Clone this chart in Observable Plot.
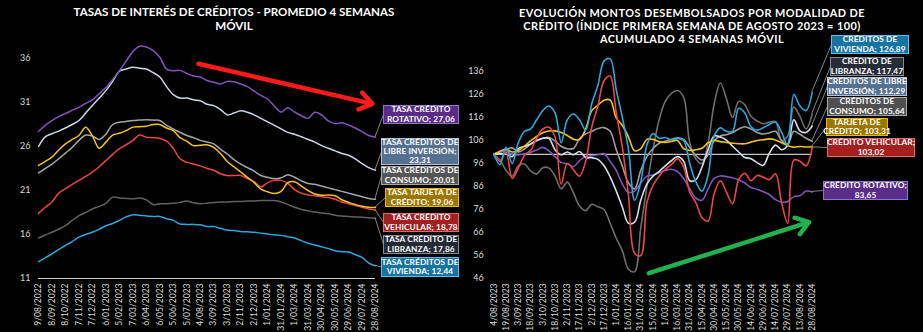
<!DOCTYPE html>
<html><head><meta charset="utf-8">
<script src="https://cdn.jsdelivr.net/npm/d3@7"></script>
<script src="https://cdn.jsdelivr.net/npm/@observablehq/plot@0.6"></script>
<style>
html,body{margin:0;padding:0;background:#000;}
#root{position:relative;width:923px;height:332px;background:#000;overflow:hidden;font-family:Lato,"Open Sans",sans-serif;}
.title{position:absolute;color:#fff;font-weight:700;text-align:center;white-space:nowrap;}
.chart{position:absolute;top:0;}
.lb{position:absolute;box-sizing:border-box;display:flex;align-items:center;justify-content:center;text-align:center;color:#fff;font-weight:700;font-size:8.3px;line-height:9.2px;border:1px solid;white-space:nowrap;z-index:2;letter-spacing:0.1px;}
</style></head><body>
<div id="root">
 <div class="title" style="left:34px;width:400px;top:5px;font-size:11.6px;line-height:14.2px">TASAS DE INTERÉS DE CRÉDITOS - PROMEDIO 4 SEMANAS<br>MÓVIL</div>
 <div class="title" style="left:482px;width:420px;top:5.5px;font-size:10.9px;line-height:13.2px;letter-spacing:0.45px">EVOLUCIÓN MONTOS DESEMBOLSADOS POR MODALIDAD DE<br>CRÉDITO (ÍNDICE PRIMERA SEMANA DE AGOSTO 2023 = 100)<br>ACUMULADO 4 SEMANAS MÓVIL</div>
 <div id="left" class="chart" style="left:0;width:460px;height:332px"></div>
 <div id="right" class="chart" style="left:460px;width:463px;height:332px"></div>
</div>
<script>
// ---------- LEFT PANEL DATA (every 15 days from 9/08/2022) ----------
const leftStart = "2022-08-09";
const leftStepDays = 15;
const leftTickLabels = ["9/08/2022","8/09/2022","8/10/2022","7/11/2022","7/12/2022","6/01/2023","5/02/2023","7/03/2023","6/04/2023","6/05/2023","5/06/2023","5/07/2023","4/08/2023","3/09/2023","3/10/2023","2/11/2023","2/12/2023","1/01/2024","31/01/2024","1/03/2024","31/03/2024","30/04/2024","30/05/2024","29/06/2024","29/07/2024","28/08/2024"];
const leftYTicks = [11,16,21,26,31,36];

const rotativoL = [27.7,28.4,28.95,29.4,29.75,30.1,30.45,30.9,31.3,32.0,32.7,33.6,34.6,35.7,36.8,37.4,37.3,36.9,36.15,34.8,34.6,34.65,34.3,34.0,33.9,33.5,33.3,33.1,33.4,33.35,33.1,32.8,32.3,31.8,31.4,30.6,29.9,30.4,29.9,29.5,29.2,29.9,29.6,28.9,28.6,28.7,28.45,28.1,27.7,27.25,27.06];
const libreL = [26.0,27.1,27.45,27.75,28.1,28.5,28.95,29.8,30.65,31.5,32.35,33.4,34.55,34.8,35.0,34.9,34.8,34.4,33.9,32.8,31.9,31.5,31.5,31.3,31.2,30.8,30.65,30.2,29.6,29.8,30.05,29.9,29.6,29.2,28.8,28.4,28.0,27.6,27.4,27.1,26.8,26.5,26.1,25.8,25.5,25.2,25.0,24.6,24.05,23.6,23.31];
const consumoL = [23.0,23.5,24.0,24.6,25.25,25.9,26.7,27.3,27.2,26.8,27.4,28.5,28.75,28.85,28.95,29.0,29.05,29.0,28.95,28.4,28.0,27.6,27.25,27.0,26.7,26.5,26.3,25.7,25.15,24.5,24.0,23.6,23.2,22.7,22.5,22.35,22.45,22.8,22.5,22.1,21.8,21.7,21.5,21.3,21.1,20.9,20.7,20.5,20.3,20.1,20.01];
const tarjetaL = [23.85,24.3,24.8,25.6,26.3,26.8,27.25,28.2,27.2,25.8,26.5,27.3,27.5,27.8,28.2,28.25,28.3,28.5,28.5,28.1,27.8,27.0,26.6,26.1,26.15,26.2,25.9,25.2,24.3,23.7,23.1,22.5,21.9,21.15,20.85,20.65,20.9,21.9,22.0,21.5,21.0,20.6,20.45,20.5,20.4,19.95,19.65,19.4,19.2,19.1,19.06];
const vehicularL = [18.4,19.1,19.7,20.7,21.2,21.7,22.15,22.6,23.1,23.7,24.4,25.1,25.75,26.2,26.7,27.3,27.05,27.0,26.9,26.6,25.8,24.6,24.2,24.0,23.8,23.5,23.3,22.9,22.7,22.7,22.7,22.35,22.0,21.4,21.9,22.15,22.15,21.8,21.1,20.7,20.5,20.4,20.3,20.2,20.0,19.7,19.5,19.3,19.1,18.9,18.78];
const libranzaL = [15.6,15.95,16.25,16.6,17.0,17.6,18.15,18.5,18.9,19.2,19.55,20.25,20.15,20.1,20.05,20.15,19.94,19.4,19.5,19.5,19.55,19.65,19.8,19.6,19.5,19.55,19.65,19.7,19.7,19.75,19.75,19.8,19.8,19.85,19.85,19.85,19.7,19.4,19.1,18.85,18.7,18.55,18.45,18.35,18.2,18.1,18.05,18.0,17.95,17.9,17.86];
const viviendaL = [12.9,13.35,13.8,14.3,14.75,15.2,15.7,16.0,16.25,16.6,17.0,17.25,17.6,18.0,18.25,18.2,18.1,18.05,18.05,17.8,17.6,17.2,17.15,17.15,17.1,16.9,16.9,16.7,16.5,16.45,16.35,16.3,16.25,16.15,16.05,15.95,15.9,15.75,15.6,15.3,15.0,14.8,14.6,14.4,14.15,14.05,14.0,13.7,13.4,12.75,12.44];

// ---------- RIGHT PANEL DATA (every 7.5 days from 4/08/2023) ----------
const rightStart = "2023-08-04";
const rightStepHours = 180;
const rightTickLabels = ["4/08/2023","19/08/2023","3/09/2023","18/09/2023","3/10/2023","18/10/2023","2/11/2023","17/11/2023","2/12/2023","17/12/2023","1/01/2024","16/01/2024","31/01/2024","15/02/2024","1/03/2024","16/03/2024","31/03/2024","15/04/2024","30/04/2024","15/05/2024","30/05/2024","14/06/2024","29/06/2024","14/07/2024","29/07/2024","13/08/2024","28/08/2024"];
const rightYTicks = [46,56,66,76,86,96,106,116,126,136];
const baseIndex = [100];

const viviendaR = [100,95.5,103,96,105,110,111,115,119,121,118,105,115,117.5,115,110.5,122,130,140.5,141.5,128,116,102,80,88,104,109,107,107.3,106.3,106.8,106,96,88,84,91,108,111.5,110,110,120,118,112,110.5,111.5,113,114,109.5,104,126,121,119,126.89];
const libranzaR = [100,97.5,93,90.5,95,95.8,92.8,91.5,94.2,94,90.5,85,87.9,83.2,77.5,75.5,78.3,77.2,76,70,63.5,58,50,49,68,86,102,115,123,126.5,127.7,124.8,105,98,96,105,122,131,124,116,123,121.5,116.5,114.5,113.3,114,114.2,106,108,120.5,116.5,111,117.47];
const libreR = [100,100.3,100,99,102.5,103.4,104.5,106,107,106.9,102,99.8,101,99.8,101.2,98.6,98.5,97.8,95,90.2,84,77,70,70.5,80,87,90.5,92.5,95,97.2,99,97,88.5,89,94.5,102,108,107.5,106.2,103.5,101,98.6,98.1,96.4,95.2,100.5,104,102,104,115,110.2,109.5,112.29];
const consumoR = [100,101,102,102.8,101,102.3,104.3,106,107,107.3,105.8,103.5,102.4,102.5,106.8,108.9,110,111.2,111.6,110,102,94.8,87.5,85,93,99,102.5,104.8,105.7,106.5,107.2,106.5,103,99.5,97.5,99.8,106,108,108.5,109.5,111,112,111,109.5,108.8,109.3,110,106,104.5,110,108.7,107,105.64];
const tarjetaR = [100,101.3,102.2,101,101.6,103.6,105.8,107.8,109.4,110.1,110.2,109.5,108.2,106.6,106.4,111,119,121.3,123.5,123.6,115.8,112.5,107.5,101.5,102.5,106.5,106.5,105.5,105.2,105.6,106,102.5,101.7,102,102.6,105,106,105.5,105.2,104.8,104.6,104.6,105.3,106,106.3,106.7,106.2,105,103.8,103.1,103.4,103.2,103.31];
const vehicularR = [100,97,101,89.5,94,99.5,101.7,107,111,111.8,107.5,87,96,93.3,90.5,97,112,121,132,134,118,103,82,57,56,79,86.5,90.5,93.5,95.5,98,94.5,83.5,79,72.5,71,83,88.5,83.5,78.5,89,91.7,88.5,90.8,90.1,89,91.5,79,70,97.5,97,95,103.02];
const rotativoR = [100,100.9,101.6,100,99.7,100.2,100.8,101.9,103,101.5,99,96.5,95.9,94.6,97.3,98.9,99.3,99.8,100.2,97,93,87,83.5,84,87.5,90.5,91,92,93,93.5,92.5,89.5,85,81,80,85,89.5,90.6,90.3,89.8,88.8,87.5,85.6,84.8,83.7,82.5,80.3,79.2,79.5,81.6,82,84,83.65];

// Trend arrows (annotation endpoints, in data units)
const leftArrow = [{x1: "2023-07-31", y1: 35.4, x2: "2024-08-21", y2: 30.85}];
const rightArrow = [{x1: "2024-02-10", y1: 48.3, x2: "2024-08-24", y2: 70.5}];

// ---------- build ----------
const parseIso = d3.utcParse("%Y-%m-%d");
const parseTick = d3.utcParse("%d/%m/%Y");
const fmtTick = d3.utcFormat("%-d/%m/%Y");
const fmtNum = v => v.toFixed(2).replace(".", ",");

const leftDates = rotativoL.map((_, i) => d3.utcDay.offset(parseIso(leftStart), leftStepDays * i));
const rightDates = viviendaR.map((_, i) => d3.utcHour.offset(parseIso(rightStart), rightStepHours * i));

const leftSeries = [
  {values: viviendaL, color: "#2aa7dd", lines: ["TASA CRÉDITOS DE", "VIVIENDA; {v}"], bg: "#1773a0", bd: "#5fbde6", box: [381, 257, 78, 20]},
  {values: libranzaL, color: "#616161", lines: ["TASA CRÉDITO DE", "LIBRANZA; {v}"], bg: "#232a36", bd: "#858b96", box: [383, 235, 76, 19]},
  {values: vehicularL, color: "#ef4444", lines: ["TASA CRÉDITO", "VEHICULAR; {v}"], bg: "#a3201f", bd: "#e06a6a", box: [383, 213, 76, 19]},
  {values: consumoL, color: "#a6a6a6", lines: ["TASA CRÉDITOS DE", "CONSUMO; {v}"], bg: "#555555", bd: "#a6a6a6", box: [381, 166, 78, 19]},
  {values: tarjetaL, color: "#f6c21c", lines: ["TASA TARJETA DE", "CRÉDITO; {v}"], bg: "#9b7600", bd: "#e8b900", box: [385, 188, 74, 19]},
  {values: libreL, color: "#cdd6e6", lines: ["TASA CRÉDITOS DE", "LIBRE INVERSIÓN;", "{v}"], bg: "#56708f", bd: "#aebfd6", box: [381, 138, 78, 27]},
  {values: rotativoL, color: "#7e55ba", lines: ["TASA CRÉDITO", "ROTATIVO; {v}"], bg: "#582c87", bd: "#9272c4", box: [383, 105, 76, 19]}
];
const rightSeries = [
  {values: libranzaR, color: "#6e6e6e", lines: ["CRÉDITO DE", "LIBRANZA; {v}"], bg: "#262d39", bd: "#858b96", box: [830, 57, 74, 19]},
  {values: consumoR, color: "#9e9e9e", lines: ["CRÉDITOS DE", "CONSUMO; {v}"], bg: "#505050", bd: "#a6a6a6", box: [827, 97, 80, 19]},
  {values: rotativoR, color: "#7e55ba", lines: ["CRÉDITO ROTATIVO;", "{v}"], bg: "#582c87", bd: "#9272c4", box: [823, 181, 85, 19]},
  {values: libreR, color: "#d5ddea", lines: ["CRÉDITOS DE LIBRE", "INVERSIÓN; {v}"], bg: "#56708f", bd: "#aebfd6", box: [827, 77, 80, 19]},
  {values: tarjetaR, color: "#f6c21c", lines: ["TARJETA DE", "CRÉDITO; {v}"], bg: "#9b7600", bd: "#e8b900", box: [826, 118, 62, 18]},
  {values: vehicularR, color: "#ef4444", lines: ["CRÉDITO VEHICULAR;", "{v}"], bg: "#a3201f", bd: "#e06a6a", box: [827, 138, 88, 19]},
  {values: viviendaR, color: "#2aa7dd", lines: ["CRÉDITOS DE", "VIVIENDA; {v}"], bg: "#1773a0", bd: "#5fbde6", box: [831, 35, 78, 19]}
];

function toRows(values, dates) { return values.map((v, i) => ({date: dates[i], value: v})); }
function arrowRows(a) { return a.map(d => ({x1: parseIso(d.x1), y1: d.y1, x2: parseIso(d.x2), y2: d.y2})); }

const commonStyle = {background: "transparent", color: "#d9d9d9", fontFamily: "Lato, 'Open Sans', sans-serif", overflow: "visible"};

const leftPlot = Plot.plot({
  width: 460, height: 332,
  marginLeft: 38, marginRight: 85, marginTop: 14, marginBottom: 54,
  style: commonStyle,
  x: {type: "utc", domain: [leftDates[0], leftDates[leftDates.length - 1]]},
  y: {domain: [11, 41]},
  marks: [
    Plot.ruleY([leftYTicks[0]], {stroke: "#d0d0d0", strokeWidth: 1.2}),
    ...leftSeries.map(s => Plot.line(toRows(s.values, leftDates), {x: "date", y: "value", stroke: s.color, strokeWidth: 1.5, curve: "catmull-rom"})),
    Plot.arrow(arrowRows(leftArrow), {x1: "x1", y1: "y1", x2: "x2", y2: "y2", stroke: "#ff1a1a", strokeWidth: 4.5, headLength: 5, headAngle: 70}),
    Plot.axisX({ticks: leftTickLabels.map(parseTick), tickFormat: fmtTick, tickRotate: -90, tickSize: 0, tickPadding: 5, fontSize: 8.5, fill: "#d9d9d9", label: null}),
    Plot.axisY({ticks: leftYTicks, tickSize: 0, tickPadding: 8, fontSize: 9, fill: "#d9d9d9", label: null})
  ]
});

const rightPlot = Plot.plot({
  width: 463, height: 332,
  marginLeft: 33.3, marginRight: 111.3, marginTop: 48, marginBottom: 54,
  style: commonStyle,
  x: {type: "utc", domain: [rightDates[0], rightDates[rightDates.length - 1]]},
  y: {domain: [46, 146]},
  marks: [
    Plot.ruleY(baseIndex, {stroke: "#c4c4c4", strokeWidth: 1.3}),
    ...rightSeries.map(s => Plot.line(toRows(s.values, rightDates), {x: "date", y: "value", stroke: s.color, strokeWidth: 1.6, curve: "catmull-rom"})),
    Plot.arrow(arrowRows(rightArrow), {x1: "x1", y1: "y1", x2: "x2", y2: "y2", stroke: "#22b14c", strokeWidth: 4.5, headLength: 5, headAngle: 70}),
    Plot.axisX({ticks: rightTickLabels.map(parseTick), tickFormat: fmtTick, tickRotate: -90, tickSize: 0, tickPadding: 5, fontSize: 8.5, fill: "#d9d9d9", label: null}),
    Plot.axisY({ticks: rightYTicks, tickSize: 0, tickPadding: 10, fontSize: 9, fill: "#d9d9d9", label: null})
  ]
});

document.getElementById("left").appendChild(leftPlot);
document.getElementById("right").appendChild(rightPlot);

const root = document.getElementById("root");
function addLabels(plot, series, dates, offsetX) {
  const sx = plot.scale("x"), sy = plot.scale("y");
  const lastDate = dates[dates.length - 1];
  const g = d3.select(plot).append("g");
  series.forEach(s => {
    const last = s.values[s.values.length - 1];
    const [bx, by, bw, bh] = s.box;
    g.append("line")
      .attr("x1", sx.apply(lastDate)).attr("y1", sy.apply(last))
      .attr("x2", bx - offsetX + 0.5).attr("y2", by + bh / 2)
      .attr("stroke", "#a6a6a6").attr("stroke-width", 0.8);
    const div = document.createElement("div");
    div.className = "lb";
    div.style.left = bx + "px"; div.style.top = by + "px";
    div.style.width = bw + "px"; div.style.height = bh + "px";
    div.style.background = s.bg; div.style.borderColor = s.bd;
    div.innerHTML = s.lines.map(t => t.replace("{v}", fmtNum(last))).join("<br>");
    root.appendChild(div);
  });
}
addLabels(leftPlot, leftSeries, leftDates, 0);
addLabels(rightPlot, rightSeries, rightDates, 460);
</script>
</body></html>
